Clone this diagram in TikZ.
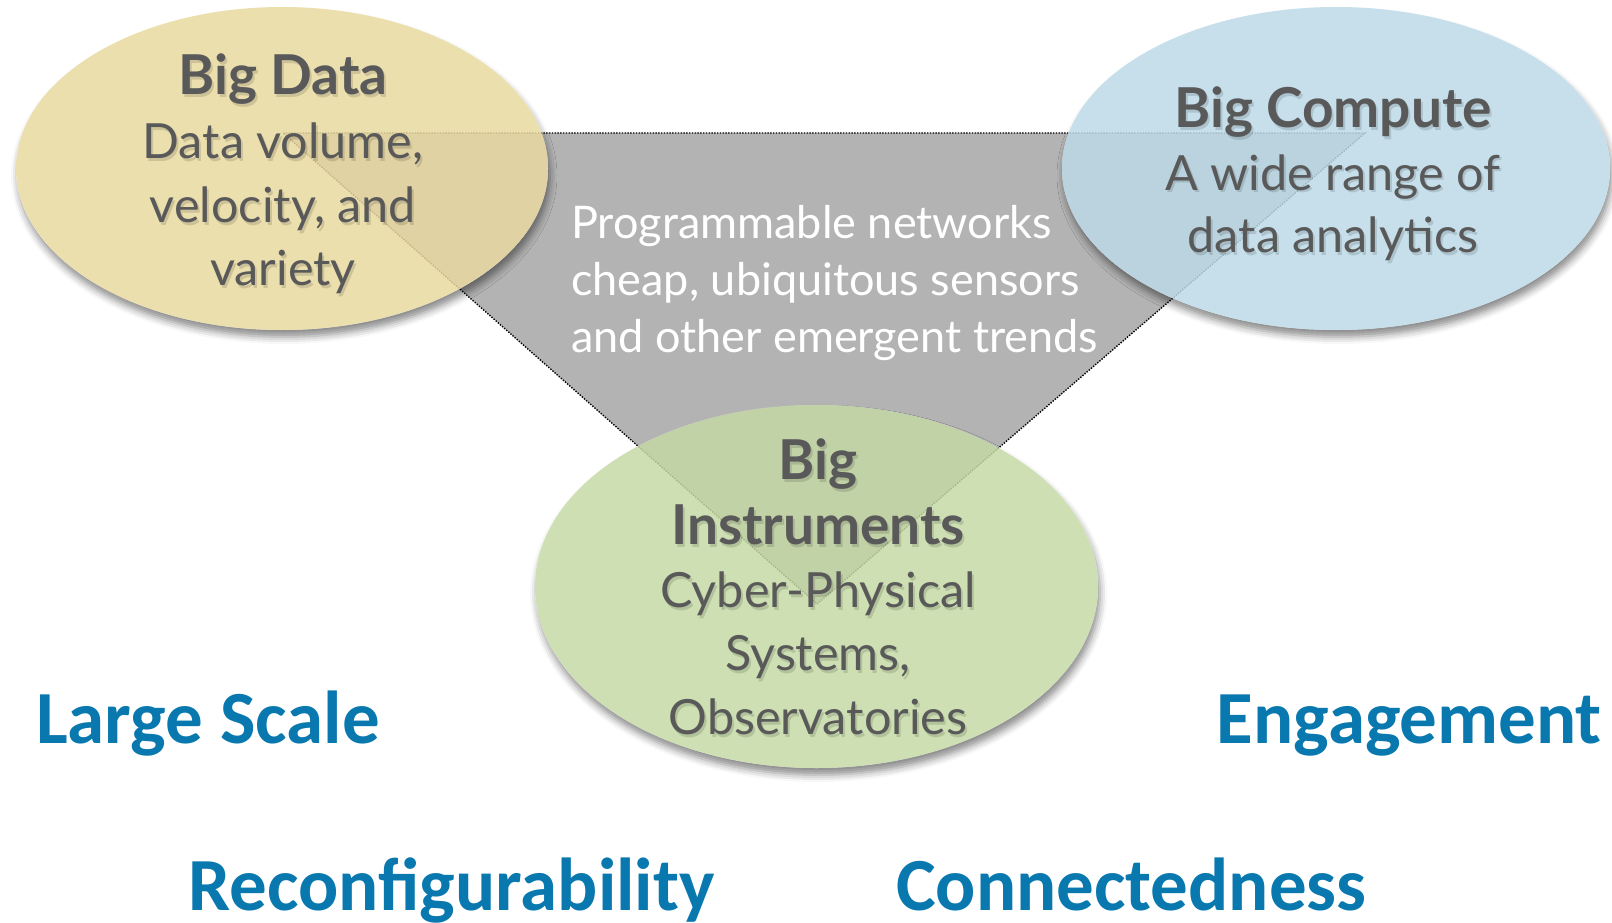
\documentclass[tikz,border=0pt]{standalone}
\usepackage{fontspec}
\setmainfont{Lato}
\newfontfamily\calibfont{Carlito}
\usetikzlibrary{shadows.blur}
\definecolor{trigray}{RGB}{179,179,179}
\definecolor{bdfill}{RGB}{233,217,159}
\definecolor{bcfill}{RGB}{188,218,232}
\definecolor{bifill}{RGB}{196,217,165}
\definecolor{txtgray}{RGB}{89,89,89}
\definecolor{keyblue}{RGB}{8,120,174}
\tikzset{
  tri/.style={fill=trigray, draw=black, line width=1.4pt, dash pattern=on 1.4pt off 1.4pt},
  under/.style={fill=white, blur shadow={shadow xshift=2pt, shadow yshift=-7pt, shadow blur radius=7pt, shadow opacity=45}},
  bubble/.style={fill opacity=0.84},
  head/.style={anchor=base, inner sep=0pt, text=txtgray, font=\fontsize{55}{66}\selectfont\bfseries},
  body/.style={anchor=base, inner sep=0pt, text=txtgray, font=\fontsize{48.5}{58}\selectfont},
  trit/.style={anchor=base west, inner sep=0pt, text=white, font=\fontsize{45}{54}\selectfont},
  key/.style={inner sep=0pt, text=keyblue, font=\fontsize{75}{90}\selectfont\calibfont\bfseries},
  tsh/.style={text=black, text opacity=0.13, xshift=2pt, yshift=-3pt}
}
% a text line with its soft shadow: style, name, position, text
\newcommand{\shline}[4]{%
  \node[#1, tsh] (#2s) at #3 {#4};
  \node[#1] (#2) at #3 {#4};}
\begin{document}
\begin{tikzpicture}[x=1pt,y=-1pt]
\useasboundingbox (0,0) rectangle (1612,923);
\coordinate (tl) at (283,133);
\coordinate (tr) at (1365,133);
\coordinate (tb) at (817,604);
\coordinate (cd) at (282,168.5);
\coordinate (cc) at (1336,168.5);
\coordinate (ci) at (816.5,586.5);
% triangle
\path[tri] (tl) -- (tr) -- (tb) -- cycle;
% shadows and white underlays
\path[under] (cd) ellipse [x radius=266, y radius=161.5];
\path[under] (cc) ellipse [x radius=274, y radius=161.5];
\path[under] (ci) ellipse [x radius=281.5, y radius=181.5];
% triangle again, inside the bubbles
\begin{scope}
\clip (cd) ellipse [x radius=266, y radius=161.5]
      (cc) ellipse [x radius=274, y radius=161.5]
      (ci) ellipse [x radius=281.5, y radius=181.5];
\path[tri] (tl) -- (tr) -- (tb) -- cycle;
\end{scope}
% bubbles
\fill[bdfill, bubble] (cd) ellipse [x radius=266, y radius=161.5];
\fill[bcfill, bubble] (cc) ellipse [x radius=274, y radius=161.5];
\fill[bifill, bubble] (ci) ellipse [x radius=281.5, y radius=181.5];
% triangle text
\node[trit] (t1) at (571,238) {Programmable networks};
\node[trit] (t2) at (571,295) {cheap, ubiquitous sensors};
\node[trit] (t3) at (571,352) {and other emergent trends};
% Big Data
\shline{head}{bd0}{(283,95)}{Big Data}
\shline{body}{bd1}{(283,158)}{Data volume,}
\shline{body}{bd2}{(283,222)}{velocity, and}
\shline{body}{bd3}{(283,285)}{variety}
% Big Compute
\shline{head}{bc0}{(1333,128)}{Big Compute}
\shline{body}{bc1}{(1333,190)}{A wide range of}
\shline{body}{bc2}{(1333,252)}{data analytics}
% Big Instruments
\shline{head}{bi0}{(818,479)}{Big}
\shline{head}{bi1}{(818,544)}{Instruments}
\shline{body}{bi2}{(818,607)}{Cyber-Physical}
\shline{body}{bi3}{(818,670)}{Systems,}
\shline{body}{bi4}{(818,734)}{Observatories}
% keywords
\node[key, anchor=base west] (k1) at (36,743) {Large Scale};
\node[key, anchor=base east] (k2) at (1602,743) {Engagement};
\node[key, anchor=base west] (k3) at (188,910) {Reconfigurability};
\node[key, anchor=base west] (k4) at (896,910) {Connectedness};
\end{tikzpicture}
\end{document}
